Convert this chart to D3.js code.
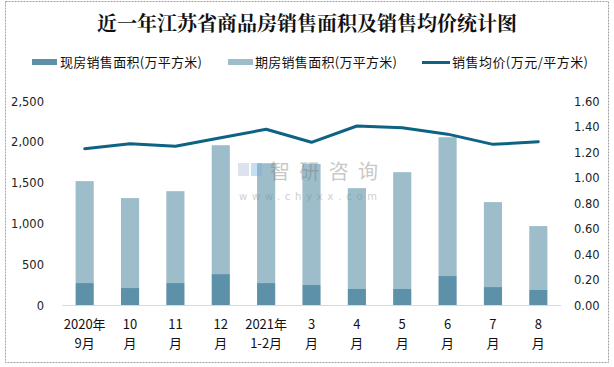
<!DOCTYPE html>
<html><head><meta charset="utf-8">
<script src="https://cdn.jsdelivr.net/npm/d3@7"></script>
<style>body{margin:0;background:#fff}svg{display:block}</style>
</head><body>
<svg id="c" width="614" height="367"></svg>
<script>
const categories = ["2020年\n9月","10\n月","11\n月","12\n月","2021年\n1-2月","3\n月","4\n月","5\n月","6\n月","7\n月","8\n月"];
const spotArea = [269, 208, 269, 379, 269, 245, 196, 196, 355, 220, 184];
const futureArea = [1249, 1102, 1126, 1579, 1469, 1483, 1236, 1432, 1701, 1041, 783];
const avgPrice = [1.226, 1.265, 1.245, 1.312, 1.378, 1.276, 1.404, 1.39, 1.34, 1.26, 1.28];
const leftTicks = [0, 500, 1000, 1500, 2000, 2500];
const rightTicks = [0, 0.2, 0.4, 0.6, 0.8, 1.0, 1.2, 1.4, 1.6];
const seriesNames = ["现房销售面积(万平方米)", "期房销售面积(万平方米)", "销售均价(万元/平方米)"];
const title = "近一年江苏省商品房销售面积及销售均价统计图";

const svg = d3.select("#c");
const cjk = "'Noto Sans CJK SC', sans-serif";
const num = "'DejaVu Sans', Verdana, sans-serif";
const cDark = "#5d91a9", cLight = "#9dbdcb", cLine = "#0e6384";

svg.append("rect").attr("x",5.5).attr("y",1.5).attr("width",603).attr("height",361)
  .attr("fill","#fff").attr("stroke","#a0a0a0").attr("stroke-dasharray","2,1");

svg.append("text").attr("x",307).attr("y",31).attr("text-anchor","middle")
  .attr("font-family","'Noto Serif CJK SC', 'Noto Sans CJK SC', serif").attr("font-weight","bold")
  .attr("font-size",20).attr("fill","#111").text(title);

const x = d3.scaleBand().domain(categories).range([62,561]).paddingInner(0.6).paddingOuter(0.3);
const yL = d3.scaleLinear().domain([0,2500]).range([305,101]);
const yR = d3.scaleLinear().domain([0,1.6]).range([305,101]);

// bars
const g = svg.append("g");
g.selectAll(".spot").data(spotArea).join("rect")
  .attr("x",(d,i)=>x(categories[i])).attr("width",x.bandwidth())
  .attr("y",d=>yL(d)).attr("height",d=>yL(0)-yL(d)).attr("fill",cDark);
g.selectAll(".fut").data(futureArea).join("rect")
  .attr("x",(d,i)=>x(categories[i])).attr("width",x.bandwidth())
  .attr("y",(d,i)=>yL(d+spotArea[i])).attr("height",(d,i)=>yL(spotArea[i])-yL(d+spotArea[i])).attr("fill",cLight);

// watermark (on top, translucent)
const wm = svg.append("g").attr("opacity",0.4);
wm.append("rect").attr("x",238).attr("y",163).attr("width",11).attr("height",13).attr("fill","#aab8d6");
wm.append("rect").attr("x",251).attr("y",163).attr("width",11).attr("height",13).attr("fill","#6fb0e0");
wm.append("text").attr("x",270).attr("y",179).attr("font-family",cjk).attr("font-size",20).attr("fill","#777")
  .attr("textLength",108).attr("lengthAdjust","spacing").text("智研咨询");
wm.append("text").attr("x",239).attr("y",200).attr("font-family",num).attr("font-size",10).attr("fill","#888")
  .attr("textLength",138).attr("lengthAdjust","spacing").text("www.chyxx.com");

// baseline
svg.append("line").attr("x1",62).attr("x2",561).attr("y1",305.5).attr("y2",305.5).attr("stroke","#d9d9d9").attr("stroke-width",1);

// line
const line = d3.line().x((d,i)=>x(categories[i])+x.bandwidth()/2).y(d=>yR(d));
svg.append("path").datum(avgPrice).attr("d",line).attr("fill","none").attr("stroke",cLine)
  .attr("stroke-width",3).attr("stroke-linejoin","round").attr("stroke-linecap","round");

// left axis
const axL = svg.append("g").attr("transform","translate(44,0)")
  .call(d3.axisLeft(yL).tickValues(leftTicks).tickSize(0).tickPadding(0).tickFormat(d3.format(",")));
axL.select(".domain").remove();
axL.selectAll("text").attr("font-family",num).attr("font-size",11.5).attr("fill","#222").attr("dy","0.35em");

const axR = svg.append("g").attr("transform","translate(574,0)")
  .call(d3.axisRight(yR).tickValues(rightTicks).tickSize(0).tickPadding(0).tickFormat(d3.format(".2f")));
axR.select(".domain").remove();
axR.selectAll("text").attr("font-family",num).attr("font-size",11.5).attr("fill","#222").attr("dy","0.35em");

// x labels
const xl = svg.append("g");
categories.forEach((c,i)=>{
  const lines = c.split("\n");
  const t = xl.append("text").attr("text-anchor","middle").attr("font-family",cjk).attr("font-size",13).attr("fill","#111");
  lines.forEach((s,j)=>{
    t.append("tspan").attr("x",x(c)+x.bandwidth()/2).attr("y",329+j*19).text(s);
  });
});

// legend
const leg = svg.append("g").attr("font-family",cjk).attr("font-size",13).attr("fill","#111");
leg.append("rect").attr("x",32).attr("y",59).attr("width",25).attr("height",6).attr("fill",cDark);
leg.append("text").attr("x",60).attr("y",67).attr("textLength",142).attr("lengthAdjust","spacing").text(seriesNames[0]);
leg.append("rect").attr("x",228).attr("y",59).attr("width",25).attr("height",6).attr("fill",cLight);
leg.append("text").attr("x",255).attr("y",67).attr("textLength",142).attr("lengthAdjust","spacing").text(seriesNames[1]);
leg.append("line").attr("x1",422).attr("x2",450).attr("y1",62.5).attr("y2",62.5).attr("stroke",cLine).attr("stroke-width",3);
leg.append("text").attr("x",452).attr("y",67).attr("textLength",136).attr("lengthAdjust","spacing").text(seriesNames[2]);
</script>
</body></html>
